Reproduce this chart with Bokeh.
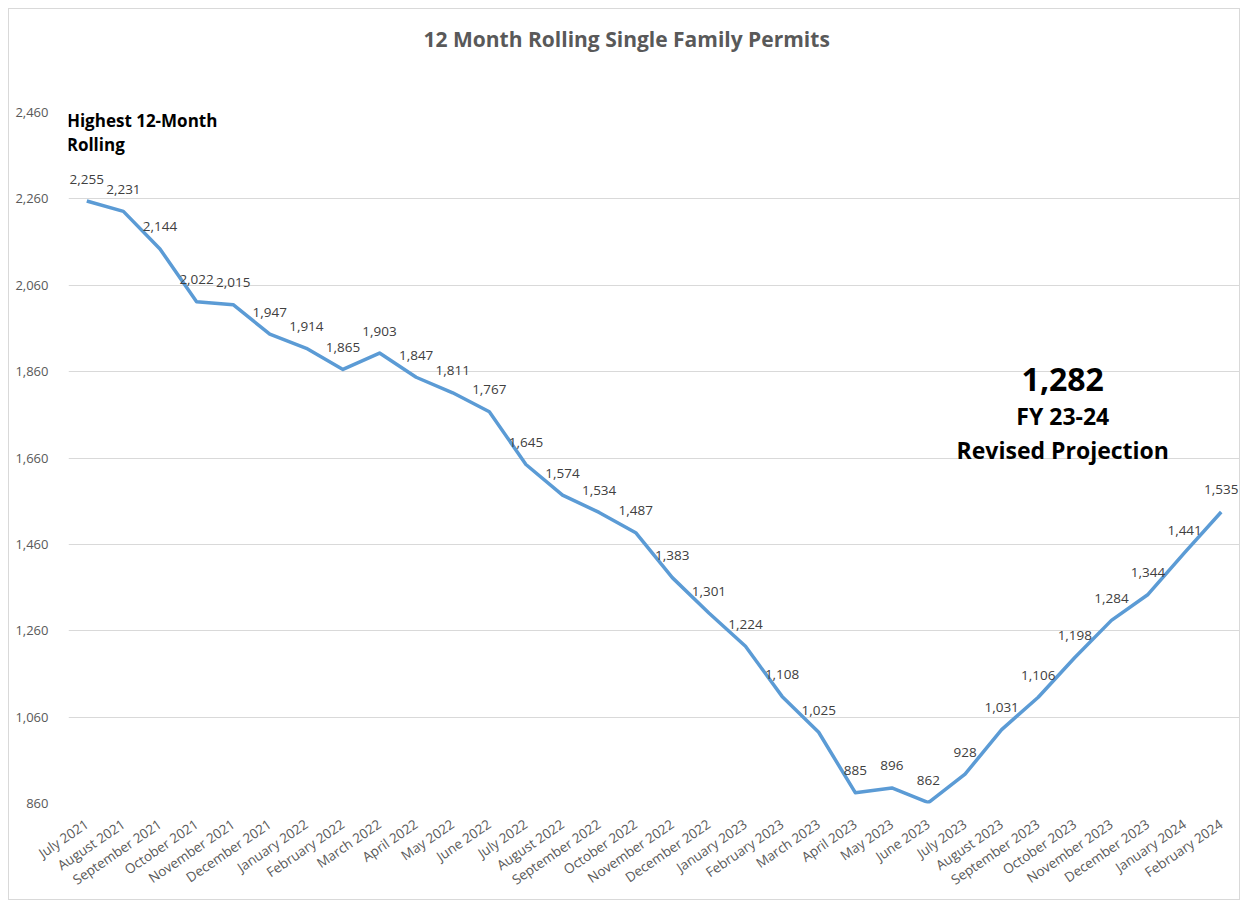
from bokeh.plotting import figure
from bokeh.models import ColumnDataSource, FactorRange, Range1d, Label, FixedTicker, NumeralTickFormatter
from bokeh.core.properties import value
from bokeh.embed import file_html
from bokeh.resources import INLINE

months = ["July 2021", "August 2021", "September 2021", "October 2021", "November 2021",
          "December 2021", "January 2022", "February 2022", "March 2022", "April 2022",
          "May 2022", "June 2022", "July 2022", "August 2022", "September 2022",
          "October 2022", "November 2022", "December 2022", "January 2023", "February 2023",
          "March 2023", "April 2023", "May 2023", "June 2023", "July 2023", "August 2023",
          "September 2023", "October 2023", "November 2023", "December 2023",
          "January 2024", "February 2024"]
permits = [2255, 2231, 2144, 2022, 2015, 1947, 1914, 1865, 1903, 1847, 1811, 1767,
           1645, 1574, 1534, 1487, 1383, 1301, 1224, 1108, 1025, 885, 896, 862,
           928, 1031, 1106, 1198, 1284, 1344, 1441, 1535]
y_ticks = [860, 1060, 1260, 1460, 1660, 1860, 2060, 2260, 2460]

title_text = "12 Month Rolling Single Family Permits"
note_high = ["Highest 12-Month", "Rolling"]
proj_value = "1,282"
proj_lines = ["FY 23-24", "Revised Projection"]

FONT = "Open Sans"

src = ColumnDataSource(dict(x=months, y=permits, lbl=[f"{v:,}" for v in permits]))

p = figure(width=1232, height=892, x_range=FactorRange(*months),
           y_range=Range1d(y_ticks[0], y_ticks[-1]),
           output_backend="svg", toolbar_location=None,
           min_border_left=59, min_border_right=2, min_border_top=103, min_border_bottom=98)
p.styles = {"border": "1px solid #d9d9d9", "margin-left": "8px", "margin-top": "8px"}
p.outline_line_color = None
p.background_fill_color = "white"
p.border_fill_color = "white"

p.title.text = title_text
p.title.align = "left"
p.title.vertical_align = "bottom"
p.title.text_font = FONT
p.title.text_font_size = "21px"
p.title.text_font_style = "bold"
p.title.text_color = "#595959"
p.title.standoff = 0
p.title.padding = (0, 0, 0, 60)
p.title.offset = 355

p.line("x", "y", source=src, line_color="#5B9BD5", line_width=3.5, line_join="round")
p.text("x", "y", text="lbl", source=src, text_align="center", text_baseline="middle",
       y_offset=-22, text_font=value(FONT), text_font_size="13.5px", text_color="#404040")

p.xgrid.grid_line_color = None
p.ygrid.grid_line_color = "#d9d9d9"
p.ygrid.grid_line_width = 1

p.yaxis.ticker = FixedTicker(ticks=y_ticks)
p.yaxis.formatter = NumeralTickFormatter(format="0,0")
for ax in (p.xaxis, p.yaxis):
    ax.axis_line_color = None
    ax.major_tick_line_color = None
    ax.minor_tick_line_color = None
    ax.major_label_text_font = FONT
    ax.major_label_text_font_size = "13px"
    ax.major_label_text_color = "#595959"
p.yaxis.major_label_standoff = 14
p.xaxis.major_label_text_font_size = "13.5px"
p.xaxis.major_label_orientation = 0.6
p.xaxis.major_label_standoff = 13

p.add_layout(Label(x=-0.18, y=2441, text=note_high[0], text_align="left", text_baseline="middle",
                   text_font=FONT, text_font_size="17px", text_font_style="bold",
                   text_color="black", background_fill_color="white", padding=5))
p.add_layout(Label(x=-0.05, y=2385, text=note_high[1], text_align="left", text_baseline="middle",
                   text_font=FONT, text_font_size="17px", text_font_style="bold",
                   text_color="black"))
p.add_layout(Label(x=27.17, y=1841, text=proj_value, text_align="center", text_baseline="middle",
                   text_font=FONT, text_font_size="32px", text_font_style="bold",
                   text_color="black"))
p.add_layout(Label(x=27.17, y=1757, text=proj_lines[0], text_align="center", text_baseline="middle",
                   text_font=FONT, text_font_size="23px", text_font_style="bold",
                   text_color="black"))
p.add_layout(Label(x=27.17, y=1678, text=proj_lines[1], text_align="center", text_baseline="middle",
                   text_font=FONT, text_font_size="23px", text_font_style="bold",
                   text_color="black"))

open("out.html", "w").write(file_html(p, INLINE))
